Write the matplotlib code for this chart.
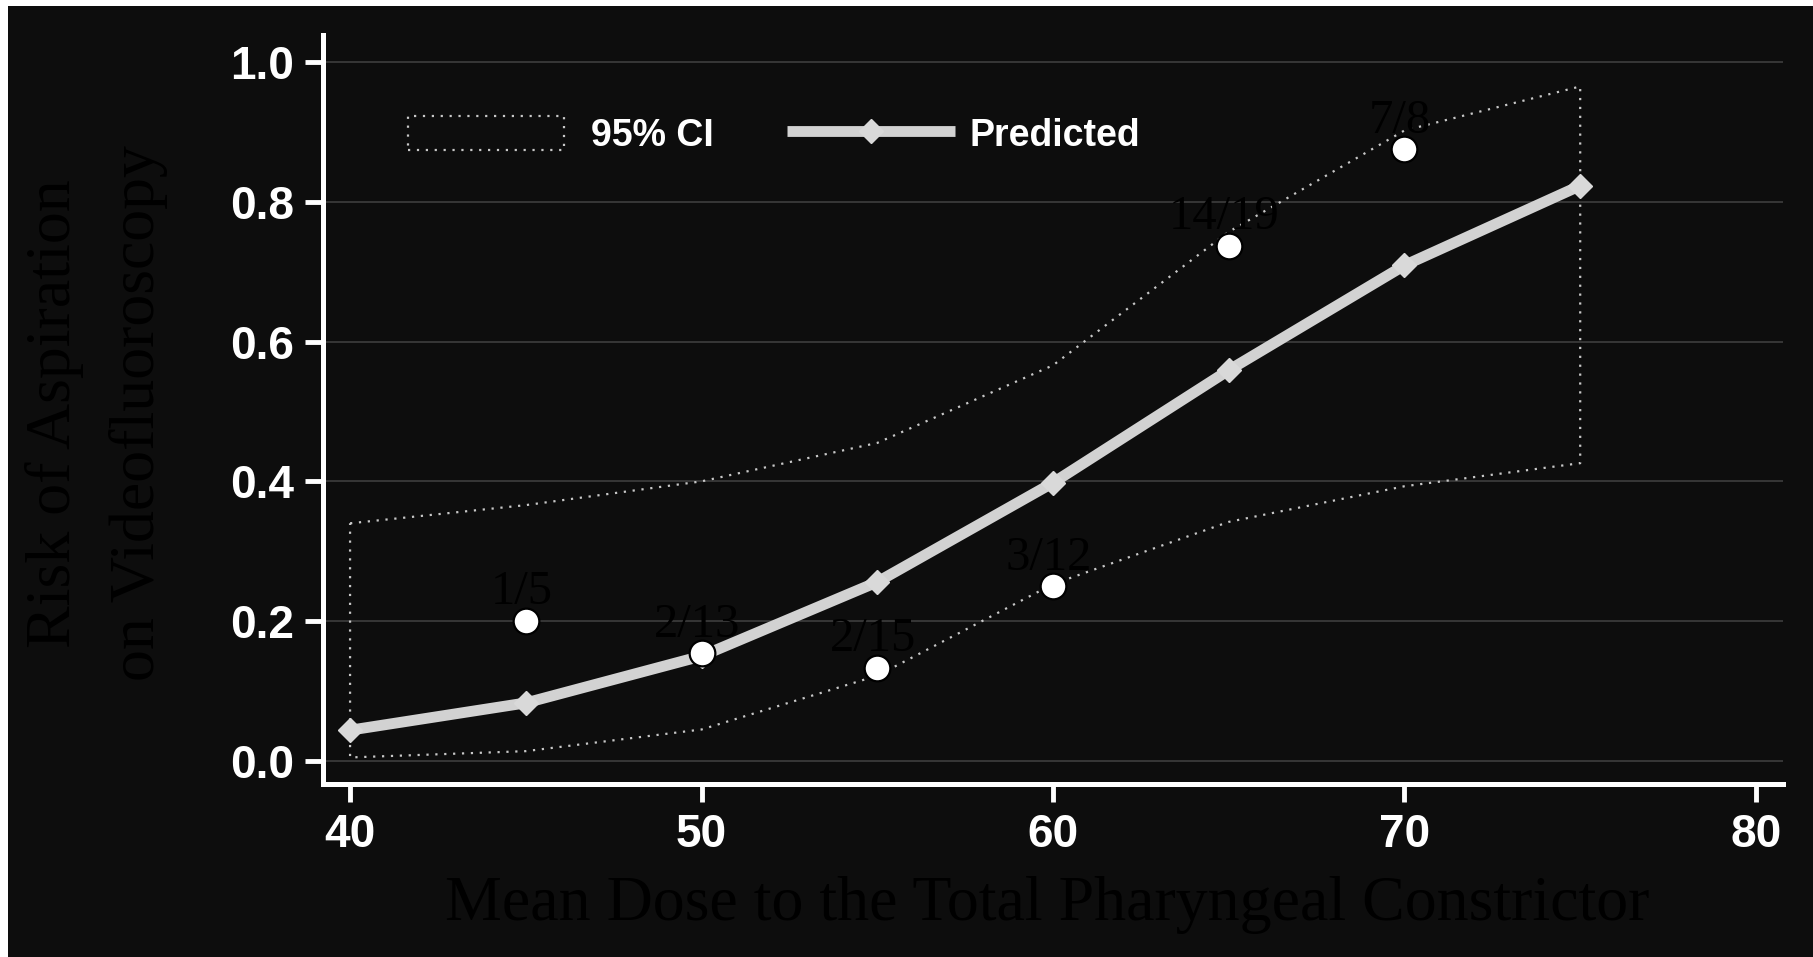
import numpy as np
import matplotlib
matplotlib.use("Agg")
import matplotlib.pyplot as plt
from matplotlib.lines import Line2D
from matplotlib.patches import Rectangle
from matplotlib.legend_handler import HandlerPatch

# Dose-response model for aspiration risk
dose = [40, 45, 50, 55, 60, 65, 70, 75]
predicted = [0.044, 0.083, 0.150, 0.256, 0.398, 0.559, 0.709, 0.823]
ci_upper = [0.340, 0.366, 0.400, 0.455, 0.566, 0.757, 0.902, 0.965]
ci_lower = [0.005, 0.014, 0.045, 0.122, 0.253, 0.342, 0.393, 0.426]

# Observed aspiration counts per dose bin
obs_dose = [45, 50, 55, 60, 65, 70]
obs_events = [1, 2, 2, 3, 14, 7]
obs_total = [5, 13, 15, 12, 19, 8]

x_ticks = [40, 50, 60, 70, 80]
y_ticks = [0.0, 0.2, 0.4, 0.6, 0.8, 1.0]
y_tick_labels = ["0.0", "0.2", "0.4", "0.6", "0.8", "1.0"]

BG = "#0d0d0d"
LINE = "#d2d2d2"
DOT = "#c8c8c8"
SANS = ["Liberation Sans", "DejaVu Sans"]
SERIF = ["Liberation Serif", "DejaVu Serif"]

W, H = 1813, 957
fig = plt.figure(figsize=(W / 100, H / 100), dpi=100, facecolor="white")
fig.add_artist(Rectangle((8 / W, 0), 1, 1 - 6 / H, transform=fig.transFigure,
                         facecolor=BG, edgecolor="none", zorder=-10))

ax = fig.add_axes([323 / W, (H - 784) / H, (1783 - 323) / W, (784 - 35) / H])
ax.set_facecolor("none")
ax.set_xlim(39.23, 80.77)
ax.set_ylim(-0.033, 1.0386)

# grid and axes styling
ax.set_yticks(y_ticks)
ax.set_yticklabels(y_tick_labels)
ax.set_xticks(x_ticks)
ax.yaxis.grid(True, color="#3a3a3a", lw=1.3)
ax.set_axisbelow(True)
for side in ("top", "right"):
    ax.spines[side].set_visible(False)
for side in ("left", "bottom"):
    ax.spines[side].set_color("white")
    ax.spines[side].set_linewidth(3.6)
ax.tick_params(colors="white", labelcolor="white", length=13, width=3.5,
               direction="out", pad=8, labelsize=33)
for lbl in ax.get_xticklabels() + ax.get_yticklabels():
    lbl.set_fontfamily(SANS)
    lbl.set_fontweight("bold")

# 95% confidence band drawn as a closed dotted outline
poly_x = list(dose) + list(dose[::-1]) + [dose[0]]
poly_y = list(ci_upper) + list(ci_lower[::-1]) + [ci_upper[0]]
ax.plot(poly_x, poly_y, color=DOT, lw=1.6, linestyle=(0, (1, 3)), zorder=2)

# predicted risk curve
ax.plot(dose, predicted, color=LINE, lw=7.8, marker="D", ms=12,
        mfc="#d9d9d9", mec="#d9d9d9", zorder=3)

# observed rates with count labels
obs_rate = [e / n for e, n in zip(obs_events, obs_total)]
ax.plot(obs_dose, obs_rate, linestyle="none", marker="o", ms=18.5,
        mfc="white", mec="black", mew=1.6, zorder=4)
for d, r, e, n in zip(obs_dose, obs_rate, obs_events, obs_total):
    ax.annotate(f"{e}/{n}", (d, r), xytext=(-3, 12), textcoords="offset points",
                ha="center", va="baseline", fontsize=35, family=SERIF,
                color="black", zorder=5)

# legend
ci_handle = Rectangle((0, 0), 1, 1, facecolor="none", edgecolor=DOT, lw=1.6,
                      linestyle=(0, (1, 3)))
pred_handle = Line2D([], [], color=LINE, lw=7.8, marker="D", ms=12,
                     mfc="#d9d9d9", mec="#d9d9d9", solid_capstyle="butt")


def _narrow_box(legend, orig_handle, xdescent, ydescent, width, height, fontsize):
    return Rectangle((-xdescent, -ydescent), width * 0.93, height)


leg = ax.legend([ci_handle, pred_handle], ["95% CI", "Predicted"],
                loc="upper left", bbox_to_anchor=(0.058, 0.892), ncol=2,
                frameon=False, handlelength=4.48, handleheight=1.02,
                handletextpad=0.4, columnspacing=1.95, borderpad=0,
                borderaxespad=0, numpoints=1,
                handler_map={Rectangle: HandlerPatch(patch_func=_narrow_box)},
                prop={"family": SANS, "weight": "bold", "size": 27})
for t in leg.get_texts():
    t.set_color("white")

# axis titles
ax.set_xlabel("Mean Dose to the Total Pharyngeal Constrictor", fontsize=46,
              family=SERIF, color="black", va="center", ha="center")
ax.xaxis.set_label_coords(0.496, -0.1616)
ax.set_ylabel("Risk of Aspiration\non Videofluoroscopy", fontsize=46,
              family=SERIF, color="black", va="center", ha="center",
              rotation_mode="default", multialignment="center", linespacing=1.55)
ax.yaxis.set_label_coords(-0.155, 0.495)

fig.savefig("out.png", dpi=100, facecolor=fig.get_facecolor())
